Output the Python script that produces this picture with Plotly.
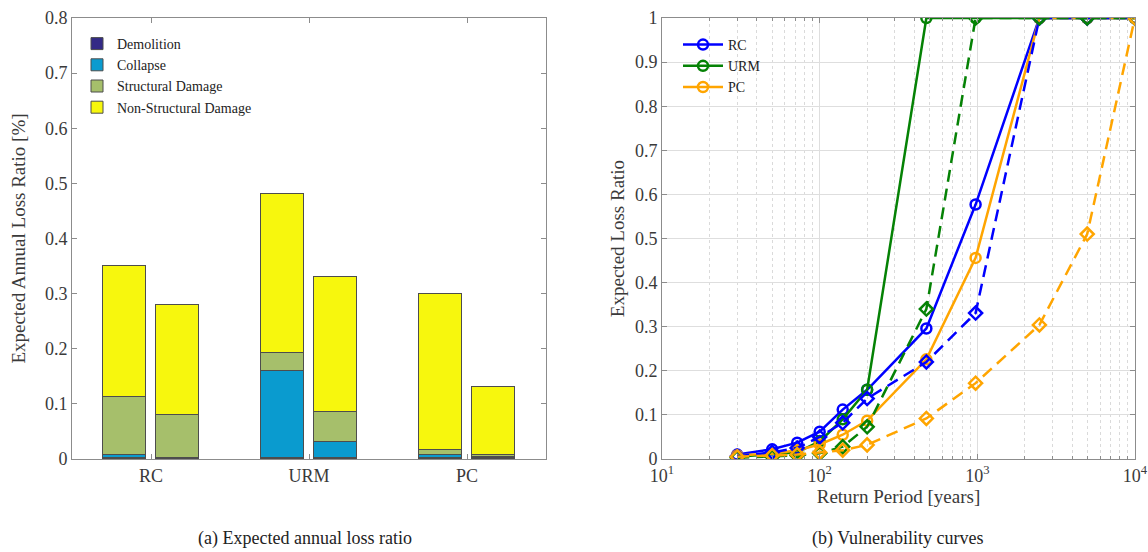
import plotly.graph_objects as go

# ---------------- data: left panel (stacked bars) ----------------
categories = ["RC", "URM", "PC"]
components = ["Demolition", "Collapse", "Structural Damage", "Non-Structural Damage"]
# two bars per category (first, second)
demolition = [0.001, 0.001, 0.001, 0.001, 0.001, 0.001]
collapse = [0.006, 0.001, 0.158, 0.029, 0.006, 0.002]
structural = [0.105, 0.078, 0.033, 0.056, 0.010, 0.005]
non_structural = [0.238, 0.200, 0.288, 0.244, 0.283, 0.122]

# ---------------- data: right panel (vulnerability curves) ----------------
return_period = [30, 50, 72, 100, 140, 200, 475, 975, 2475, 4975, 9975]
rc_solid = [0.010, 0.022, 0.037, 0.062, 0.112, 0.157, 0.296, 0.577, 1, 1, 1]
urm_solid = [0.005, 0.010, 0.015, 0.040, 0.090, 0.157, 1, 1, 1, 1, 1]
pc_solid = [0.008, 0.012, 0.020, 0.033, 0.055, 0.087, 0.226, 0.456, 1, 1, 1]
rc_dashed = [0.006, 0.015, 0.025, 0.050, 0.082, 0.137, 0.220, 0.331, 1, 1, 1]
urm_dashed = [0.003, 0.005, 0.008, 0.013, 0.028, 0.073, 0.340, 1, 1, 1, 1]
pc_dashed = [0.005, 0.008, 0.010, 0.015, 0.020, 0.032, 0.092, 0.172, 0.304, 0.510, 1]

x_ticks = [10, 100, 1000, 10000]
x_ticktext = ["10<sup>1</sup>", "10<sup>2</sup>", "10<sup>3</sup>", "10<sup>4</sup>"]
minor_vals = [m * 10 ** e for e in (1, 2, 3) for m in range(2, 10)]

FONT = "Liberation Serif, Times New Roman, serif"
W, H = 1148, 552
AX = "#8c8c8c"
TXT = "#3a3a3a"

def px_x(x):
    return x / W

def px_y(y):
    return 1 - y / H

def dom_x(a, b):
    return [px_x(a), px_x(b)]

def dom_y(top, bottom):
    return [px_y(bottom), px_y(top)]

fig = go.Figure()

# ---- bars ----
comp_values = [demolition, collapse, structural, non_structural]
comp_colors = ["#332a86", "#0a9bcf", "#a6bf6b", "#f7f70d"]
offset = 0.1675
bar_x = []
for i, _ in enumerate(categories):
    bar_x += [i + 1 - offset, i + 1 + offset]
for name, vals, col in zip(components, comp_values, comp_colors):
    fig.add_trace(go.Bar(
        x=bar_x, y=vals, name=name, width=0.272,
        marker=dict(color=col, line=dict(color="#4d4d4d", width=1)),
        xaxis="x", yaxis="y", legend="legend"))

# ---- curves ----
series = [
    ("RC", rc_solid, "#0000ff", "solid", "circle-open", True),
    ("URM", urm_solid, "#058205", "solid", "circle-open", True),
    ("PC", pc_solid, "#ffa500", "solid", "circle-open", True),
    ("RC", rc_dashed, "#0000ff", "12px,7px", "diamond-open", False),
    ("URM", urm_dashed, "#058205", "12px,7px", "diamond-open", False),
    ("PC", pc_dashed, "#ffa500", "12px,7px", "diamond-open", False),
]
for name, vals, col, dash, sym, show in series:
    fig.add_trace(go.Scatter(
        x=return_period, y=vals, name=name, mode="lines+markers",
        line=dict(color=col, width=2.5, dash=dash),
        marker=dict(symbol=sym, size=10, color=col, line=dict(color=col, width=2.5)),
        showlegend=show, xaxis="x2", yaxis="y2", legend="legend2"))

axis_common = dict(showline=True, linecolor=AX, linewidth=1, mirror="ticks",
                   ticks="inside", tickcolor=AX, ticklen=5, zeroline=False,
                   automargin=False,
                   tickfont=dict(family=FONT, size=18, color=TXT))

fig.update_layout(
    width=W, height=H, margin=dict(l=0, r=0, t=0, b=0, autoexpand=False),
    paper_bgcolor="white", plot_bgcolor="white",
    barmode="stack", bargap=0,
    font=dict(family=FONT, color=TXT),
    xaxis=dict(domain=dom_x(72, 546), range=[0.5, 3.5], tickvals=[1, 2, 3],
               ticktext=categories, showgrid=False, anchor="y", **axis_common),
    yaxis=dict(domain=dom_y(18, 459), range=[0, 0.8], dtick=0.1, showgrid=False,
               anchor="x",
               title=dict(text="Expected Annual Loss Ratio [%]",
                          font=dict(family=FONT, size=19, color=TXT), standoff=14),
               **axis_common),
    xaxis2=dict(domain=dom_x(662, 1135), type="log", range=[1, 4],
                tickvals=x_ticks, ticktext=x_ticktext, anchor="y2",
                showgrid=True, gridcolor="#dedede", gridwidth=1,
                minor=dict(tickvals=minor_vals, showgrid=True, gridcolor="#dadada",
                           griddash="dot", gridwidth=1, ticks="inside", ticklen=3,
                           tickcolor=AX),
                title=dict(text="Return Period [years]",
                           font=dict(family=FONT, size=19, color=TXT), standoff=3),
                **axis_common),
    yaxis2=dict(domain=dom_y(18, 459), range=[0, 1], dtick=0.1, anchor="x2",
                showgrid=True, gridcolor="#dedede", gridwidth=1,
                title=dict(text="Expected Loss Ratio",
                           font=dict(family=FONT, size=19, color=TXT), standoff=5),
                **axis_common),
    legend=dict(x=px_x(77), y=px_y(28), xanchor="left", yanchor="top",
                traceorder="normal", bgcolor="rgba(255,255,255,0)",
                font=dict(family=FONT, size=14, color="#222"),
                itemwidth=30, tracegroupgap=0),
    legend2=dict(x=px_x(678), y=px_y(29), xanchor="left", yanchor="top",
                 traceorder="normal", bgcolor="rgba(255,255,255,0)",
                 font=dict(family=FONT, size=14, color="#222"),
                 itemwidth=40),
    annotations=[
        dict(text="(a) Expected annual loss ratio", x=px_x(305), y=px_y(538),
             xref="paper", yref="paper", xanchor="center", yanchor="middle",
             showarrow=False, font=dict(family=FONT, size=18, color="#222")),
        dict(text="(b) Vulnerability curves", x=px_x(898), y=px_y(538),
             xref="paper", yref="paper", xanchor="center", yanchor="middle",
             showarrow=False, font=dict(family=FONT, size=18, color="#222")),
    ],
)

fig.write_html(
    "out.html",
    config={"displayModeBar": False},
    post_script="document.body.style.margin='0';document.body.style.overflow='hidden';",
)
